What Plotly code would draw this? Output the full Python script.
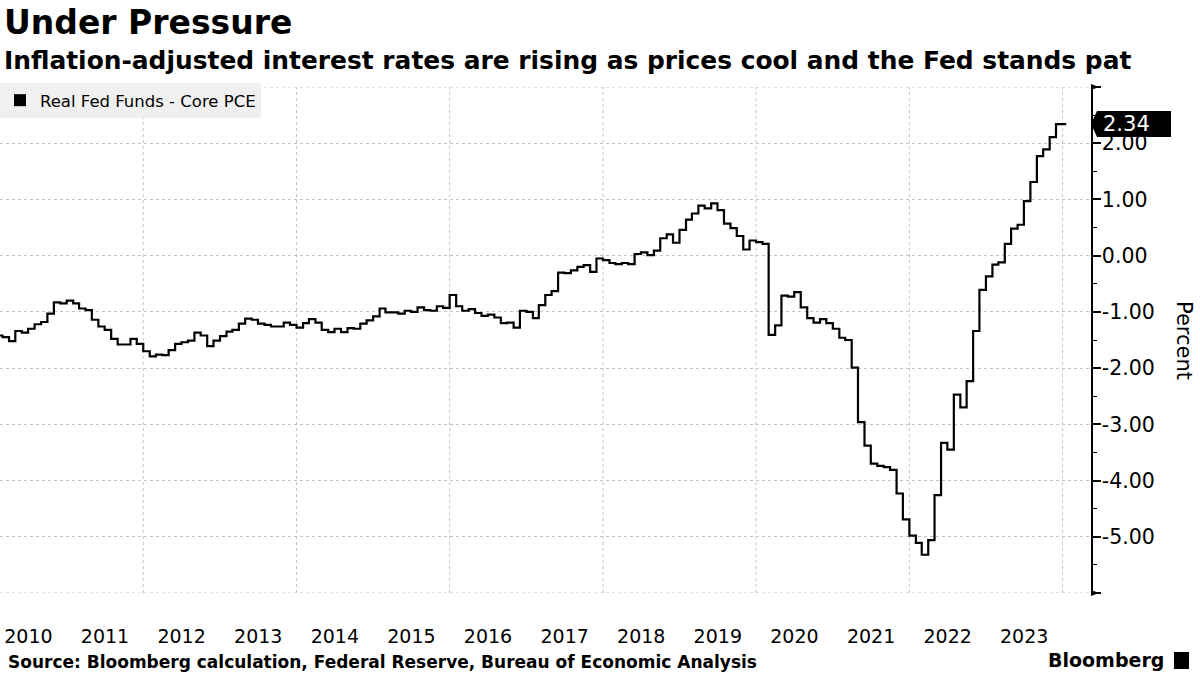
import pandas as pd
import plotly.graph_objects as go

# Real fed funds rate minus core PCE, monthly (percent)
r2010 = [-1.42, -1.42, -1.45, -1.52, -1.34, -1.37, -1.30, -1.22, -1.18, -1.03, -0.83, -0.85]
r2011 = [-0.80, -0.85, -0.94, -0.97, -1.14, -1.26, -1.32, -1.48, -1.58, -1.58, -1.48, -1.57]
r2012 = [-1.70, -1.79, -1.76, -1.77, -1.68, -1.57, -1.54, -1.51, -1.37, -1.42, -1.61, -1.51]
r2013 = [-1.43, -1.35, -1.32, -1.21, -1.12, -1.14, -1.21, -1.23, -1.26, -1.26, -1.19, -1.23]
r2014 = [-1.28, -1.20, -1.13, -1.19, -1.32, -1.36, -1.30, -1.36, -1.29, -1.30, -1.21, -1.15]
r2015 = [-1.08, -0.94, -1.01, -1.01, -1.03, -0.98, -1.00, -0.92, -0.97, -0.98, -0.90, -0.93]
r2016 = [-0.70, -0.90, -0.98, -0.95, -1.02, -1.07, -1.05, -1.10, -1.20, -1.19, -1.28, -0.98]
r2017 = [-1.00, -1.11, -0.88, -0.70, -0.63, -0.30, -0.31, -0.26, -0.20, -0.17, -0.29, -0.05]
r2018 = [-0.08, -0.13, -0.15, -0.13, -0.15, 0.03, 0.06, 0.01, 0.09, 0.31, 0.38, 0.23]
r2019 = [0.46, 0.64, 0.75, 0.89, 0.84, 0.93, 0.81, 0.57, 0.49, 0.35, 0.11, 0.27]
r2020 = [0.24, 0.21, -1.41, -1.24, -0.71, -0.73, -0.65, -0.92, -1.11, -1.19, -1.13, -1.20]
r2021 = [-1.30, -1.46, -1.50, -1.99, -2.96, -3.38, -3.70, -3.74, -3.76, -3.81, -4.23, -4.69]
r2022 = [-4.98, -5.11, -5.32, -5.06, -4.26, -3.33, -3.45, -2.47, -2.70, -2.23, -1.34, -0.61]
r2023 = [-0.37, -0.16, -0.12, 0.21, 0.48, 0.55, 0.97, 1.31, 1.77, 1.89, 2.11, 2.34]
last_obs = "2024-01-19"  # latest daily reading, same value as Dec 2023

series_name = "Real Fed Funds - Core PCE"
y_ticks = [-6, -5, -4, -3, -2, -1, 0, 1, 2, 3]
y_ticktext = ["", "-5.00", "-4.00", "-3.00", "-2.00", "-1.00", "0.00", "1.00", "2.00", ""]
grid_years = ["2012-01-01", "2014-01-01", "2016-01-01", "2018-01-01",
              "2020-01-01", "2022-01-01", "2024-01-01"]

values = (r2010 + r2011 + r2012 + r2013 + r2014 + r2015 + r2016
          + r2017 + r2018 + r2019 + r2020 + r2021 + r2022 + r2023)
dates = list(pd.date_range("2010-01-01", periods=len(values), freq="MS"))
dates.append(pd.Timestamp(last_obs))
values.append(values[-1])

YMIN, YMAX = -6, 3
FONT = "DejaVu Sans"
GRID = "#c4c4c4"

# plot area in pixels: x 0..1091, y 87..593
PW, PH = 1091, 506
def px(x):
    return x / PW
def py(y):
    return (593 - y) / PH

fig = go.Figure()
fig.add_trace(go.Scatter(
    x=dates, y=values, mode="lines", line=dict(color="black", width=2.2, shape="hv"),
    showlegend=False, hoverinfo="x+y"))
# legend entry with a square swatch
fig.add_trace(go.Scatter(
    x=[None], y=[None], mode="markers", name=series_name,
    marker=dict(symbol="square", size=12, color="black")))

last = values[-1]
yl = (last - YMIN) / (YMAX - YMIN)
hh = 13 / PH
grid_line = dict(color=GRID, width=1, dash="dot")
shapes = []
# vertical grid every two years
for g in grid_years:
    shapes.append(dict(type="line", xref="x", yref="paper", x0=g, x1=g, y0=0, y1=1,
                       line=grid_line, layer="below"))
# grid at the top and bottom of the value range
for yv in (YMIN, YMAX):
    shapes.append(dict(type="line", xref="paper", yref="y", x0=0, x1=1, y0=yv, y1=yv,
                       line=grid_line, layer="below"))
shapes += [
    # value tag pointing at the axis
    dict(type="path", xref="paper", yref="paper", line=dict(width=0), fillcolor="black",
         path=f"M 1 {yl} L {1 + px(6)} {yl + hh} L {1 + px(80)} {yl + hh} "
              f"L {1 + px(80)} {yl - hh} L {1 + px(6)} {yl - hh} Z"),
    # arrow heads at the ends of the value axis
    dict(type="path", xref="paper", yref="paper", line=dict(width=0), fillcolor="black",
         path=f"M 1 {1 + 3 / PH} L {1 + px(8)} 1 L 1 {1 - 3 / PH} Z"),
    dict(type="path", xref="paper", yref="paper", line=dict(width=0), fillcolor="black",
         path=f"M 1 {3 / PH} L {1 + px(8)} 0 L 1 {-3 / PH} Z"),
    # small logo block
    dict(type="rect", xref="paper", yref="paper", line=dict(width=0), fillcolor="black",
         x0=px(1174), x1=px(1189), y0=py(669), y1=py(652)),
]

annotations = [
    dict(text="<b>Under Pressure</b>", x=px(2), y=py(22), xref="paper", yref="paper",
         xanchor="left", yanchor="middle", showarrow=False,
         font=dict(family=FONT, size=33, color="black")),
    dict(text="<b>Inflation-adjusted interest rates are rising as prices cool and the Fed stands pat</b>",
         x=px(2), y=py(60), xref="paper", yref="paper", xanchor="left", yanchor="middle",
         showarrow=False, font=dict(family=FONT, size=24.9, color="black")),
    dict(text="<b>Source: Bloomberg calculation, Federal Reserve, Bureau of Economic Analysis</b>",
         x=px(6), y=py(662), xref="paper", yref="paper", xanchor="left", yanchor="middle",
         showarrow=False, font=dict(family=FONT, size=17, color="black")),
    dict(text="<b>Bloomberg</b>", x=px(1166), y=py(660), xref="paper", yref="paper",
         xanchor="right", yanchor="middle", showarrow=False,
         font=dict(family=FONT, size=19, color="black")),
    dict(text="Percent", x=px(1184), y=0.5, xref="paper", yref="paper", textangle=90,
         xanchor="center", yanchor="middle", showarrow=False,
         font=dict(family=FONT, size=21, color="black")),
    dict(text=f"{last:.2f}", x=1 + px(10), y=yl, xref="paper", yref="paper",
         xanchor="left", yanchor="middle", showarrow=False,
         font=dict(family=FONT, size=21, color="white")),
]

fig.update_layout(
    width=1200, height=675,
    margin=dict(l=0, r=1200 - PW, t=87, b=675 - 593),
    paper_bgcolor="white", plot_bgcolor="white",
    font=dict(family=FONT, color="black"),
    showlegend=True,
    legend=dict(x=0, y=1.008, xanchor="left", yanchor="top",
                bgcolor="#f0f0f0", font=dict(family=FONT, size=16.5, color="black"),
                itemwidth=30, borderwidth=0),
    shapes=shapes,
    annotations=annotations,
    xaxis=dict(
        type="date", range=["2010-02-17", "2024-05-16"], automargin=False,
        dtick="M12", tick0="2010-01-01", tickformat="%Y", ticklabelmode="period",
        ticks="", showgrid=False, showline=False, zeroline=False,
        tickfont=dict(family=FONT, size=19, color="black"), ticklabelstandoff=30,
    ),
    yaxis=dict(
        side="right", range=[YMIN, YMAX], tickvals=y_ticks, ticktext=y_ticktext,
        automargin=False,
        showgrid=True, gridcolor=GRID, griddash="dot", gridwidth=1, zeroline=False,
        showline=True, linecolor="black", linewidth=1.5,
        ticks="outside", ticklen=8, tickwidth=1.5, tickcolor="black",
        tickfont=dict(family=FONT, size=20.5, color="black"), ticklabelstandoff=-3,
        minor=dict(dtick=0.5, tick0=0, ticks="outside", ticklen=4, tickcolor="black",
                   tickwidth=1.2, showgrid=False),
    ),
)

# page body has a default margin; remove it so the figure fills the window
fig.write_html("out.html", config={"displayModeBar": False},
               post_script="document.body.style.margin='0px';")
